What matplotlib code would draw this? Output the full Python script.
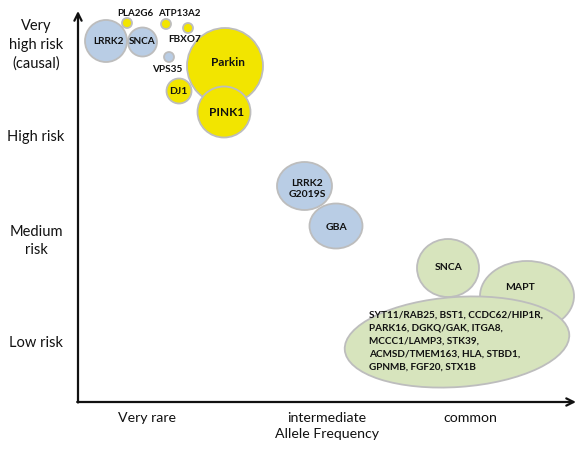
import matplotlib
matplotlib.use("Agg")
import matplotlib.pyplot as plt
from matplotlib.patches import Ellipse

# ---- data (chart units: x = allele-frequency position, y = risk position, top = high risk) ----
genes = ["LRRK2", "SNCA", "PLA2G6", "ATP13A2", "FBXO7", "VPS35", "Parkin", "PINK1", "DJ1",
         "LRRK2\nG2019S", "GBA", "SNCA", "MAPT",
         "SYT11/RAB25, BST1, CCDC62/HIP1R,\nPARK16, DGKQ/GAK, ITGA8,\nMCCC1/LAMP3, STK39,\nACMSD/TMEM163, HLA, STBD1,\nGPNMB, FGF20, STX1B"]
freq_pos = [106, 142.5, 127, 166, 188, 169, 225, 224, 179, 304.5, 336, 448, 527, 457]
risk_pos = [41, 42, 23, 24, 28, 57, 66, 112, 91, 186, 226, 268, 296, 342]
widths = [42, 29, 10, 10, 10, 10, 76, 53, 25, 55, 53, 62, 94, 225]
heights = [42, 29, 10, 10, 10, 10, 76, 51, 25, 48, 45, 58, 70, 90]
angles = [0, 0, 0, 0, 0, 0, 0, 0, 0, 0, 0, 0, 0, -4]
groups = ["blue", "blue", "yellow", "yellow", "yellow", "blue", "yellow", "yellow", "yellow",
          "blue", "blue", "green", "green", "green"]
label_x = [108, 142, 135, 179, 185, 167, 228, 227, 178, 307, 337, 449, 520, 369]
label_y = [42, 42, 13, 14, 39, 70, 62, 113, 91, 189, 228, 268, 287, 341]
label_size = [7.2, 7.2, 7.0, 7.0, 7.2, 7.2, 8.5, 8.5, 7.5, 7.5, 7.5, 7.5, 7.5, 7.2]
label_align = ["center"] * 13 + ["left"]

risk_labels = ["Very\nhigh risk\n(causal)", "High risk", "Medium\nrisk", "Low risk"]
risk_label_pos = [45, 137, 241, 343]
freq_labels = ["Very rare", "intermediate\nAllele Frequency", "common"]
freq_label_pos = [147, 327, 470]

palette = {"blue": "#B9CDE5", "yellow": "#F2E500", "green": "#D7E4BD"}
edge = "#BDBDBD"
txt = "#111111"

plt.rcParams['font.family'] = ['Lato', 'DejaVu Sans']

fig = plt.figure(figsize=(5.76, 4.51), dpi=100)
ax = fig.add_axes([0, 0, 1, 1])
ax.set_xlim(0, 576)
ax.set_ylim(451, 0)
ax.axis("off")

for x, y, w, h, a, grp in zip(freq_pos, risk_pos, widths, heights, angles, groups):
    ax.add_patch(Ellipse((x, y), w, h, angle=a, facecolor=palette[grp], edgecolor=edge,
                         linewidth=1.3, zorder=2))
for g, lx, ly, al, fs in zip(genes, label_x, label_y, label_align, label_size):
    big = al == "left"
    ax.text(lx, ly, g, ha=al, va="center", fontsize=fs, fontweight="bold",
            color=txt, linespacing=1.55 if big else 1.3, zorder=5)

# axes arrows
ax.annotate("", xy=(78, 11), xytext=(78, 402.5),
            arrowprops=dict(arrowstyle="->", lw=1.6, color="#111111", mutation_scale=13,
                            shrinkA=0, shrinkB=0), zorder=3)
ax.annotate("", xy=(576, 402), xytext=(77.2, 402),
            arrowprops=dict(arrowstyle="->", lw=1.6, color="#111111", mutation_scale=13,
                            shrinkA=0, shrinkB=0), zorder=3)

for lab, y in zip(risk_labels, risk_label_pos):
    ax.text(36, y, lab, ha="center", va="center", fontsize=10.5, color=txt, linespacing=1.45)
for lab, x in zip(freq_labels, freq_label_pos):
    ax.text(x, 412, lab, ha="center", va="top", fontsize=10.2, color=txt, linespacing=1.4)

fig.savefig("out.png", dpi=100)
